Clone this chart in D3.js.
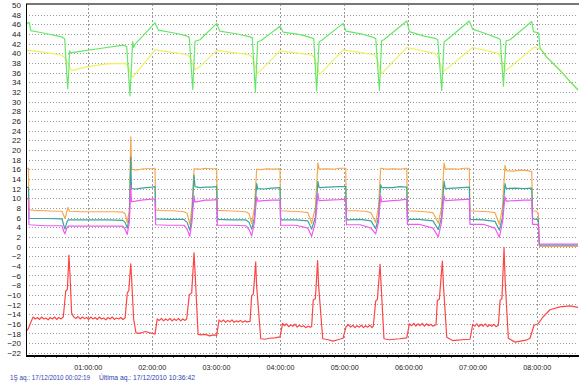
<!DOCTYPE html>
<html>
<head>
<meta charset="utf-8">
<script src="https://cdn.jsdelivr.net/npm/d3@7"></script>
<style>
  body { margin: 0; background: #fff; }
  svg { display: block; font-family: "Liberation Sans", Arial, sans-serif; }
</style>
</head>
<body>
<svg id="chart" width="580" height="389"></svg>
<script>
// times are minutes after 17/12/2010 00:00:00
const yTicks = d3.range(-22, 51, 2);
const xTickHours = [1, 2, 3, 4, 5, 6, 7, 8];
const xTickLabels = ["01:00:00", "02:00:00", "03:00:00", "04:00:00", "05:00:00", "06:00:00", "07:00:00", "08:00:00"];
const firstAcq = "1Ş aq.: 17/12/2010 00:02:19";
const lastAcq = "Última aq.: 17/12/2010 10:36:42";

const greenSeries = [[2.3,46.1],[5.4,46.4],[6.7,44.7],[18.5,44.2],[35.7,43.4],[38.5,43.0],[41.3,32.7],[42.5,37],[43,40.5],[44.1,40.1],[55.9,40.5],[71.5,41.0],[93.3,41.7],[96.5,41.4],[99.6,31.2],[102.1,42.4],[103,41.2],[104,41.8],[123.0,46.3],[126.1,44.8],[143.3,44.1],[152.6,43.6],[155,43.3],[158.3,32.5],[160.4,42.5],[165.1,42.8],[180.7,46.2],[183.5,44.6],[200,44.0],[211.9,43.4],[214,43.2],[216.9,32.0],[219,42.4],[222,42.6],[239.9,45.6],[242.8,44.4],[260,43.8],[269.5,43.2],[271.5,43.0],[274.2,32.2],[276.5,42.4],[279,42.7],[298.9,46.2],[301.7,44.6],[318,43.9],[327.2,43.3],[329.5,43.0],[332.9,32.3],[335,42.6],[337,42.8],[358.5,46.7],[360.9,44.5],[373.9,43.6],[384.9,43.1],[387.5,42.8],[391.2,32.3],[393.4,42.4],[395.5,42.7],[417.0,46.7],[420.2,45.0],[433.3,44.0],[444.2,43.1],[446,42.8],[448.9,33.2],[451.4,42.6],[455.1,42.8],[475.4,46.6],[477,44.5],[481.9,44.2],[483.2,41.1],[489,39.3],[501.7,36.5],[511.1,34.2],[518.7,32.4]];
const yellowSeries = [[2.3,40.5],[6,40.6],[20,40.2],[35.7,39.6],[38.8,39.0],[45.0,36.4],[59.1,37.2],[77.8,37.8],[94.9,37.9],[97,37.6],[102.1,35.0],[123.0,40.7],[146.4,40.0],[153.9,39.6],[156,39.0],[160.5,36.6],[165.1,37.3],[180.7,40.6],[205,39.9],[212,39.6],[214.5,39.0],[219,35.8],[239.9,40.5],[262,39.9],[270,39.6],[272.5,39.0],[277,35.6],[298.9,40.7],[320,40.0],[328,39.7],[330.5,39.0],[335,35.8],[358.5,41.2],[384.9,40.0],[388,39.0],[392.7,36.2],[420.2,41.2],[444.2,40.0],[446.5,39.0],[450.4,36.3],[478,41.3],[484.7,40.7],[489,39.3],[501.7,36.5],[511.1,34.2],[518.7,32.4]];
const orangeSeries = [[2.3,16.2],[4.6,16.2],[5.1,7.6],[10,7.5],[20,7.4],[30,7.3],[36,7.3],[37.5,6.5],[38.8,5.8],[40,6.8],[41.6,8.1],[43,7.3],[55,7.2],[70,7.2],[85,7.2],[93,7.1],[95,6.8],[97,5.0],[99,7.5],[100.3,22.7],[101.2,16.0],[105,15.8],[110,16.0],[115,16.1],[120,16.1],[123,16.2],[123.6,7.6],[130,7.4],[140,7.4],[150,7.2],[153,6.9],[155.5,4.6],[157.5,8],[159.5,16.1],[165,16.0],[170,16.2],[175,16.1],[180.7,16.1],[181.3,7.5],[190,7.4],[200,7.3],[208,7.2],[211,6.8],[213.4,4.8],[216,8],[218.1,16.0],[222,15.9],[228,16.1],[234,16.0],[239.9,16.1],[240.5,7.4],[250,7.3],[260,7.2],[266,7.0],[269.5,4.8],[273,8],[275.4,17.3],[276.5,16.0],[282,16.1],[290,16.0],[296,16.2],[301.4,16.2],[302,7.4],[310,7.4],[320,7.3],[325,7.0],[329.4,5.0],[332,8],[334.1,16.2],[340,16.0],[346,16.1],[352,16.0],[358.5,16.2],[359.1,7.4],[368,7.3],[376,7.2],[383,7.0],[388,4.8],[391,8],[393.4,17.3],[394.5,16.0],[400,16.1],[406,16.0],[412,16.2],[417,16.2],[417.6,7.4],[425,7.3],[435,7.2],[441,7.0],[445.1,4.6],[448,8],[450.4,16.8],[451.5,15.7],[458,15.6],[465,15.8],[471,15.7],[475.4,15.5],[476.2,7.4],[480,7.3],[481.5,6.8],[482.5,0],[518.7,0]];
const tealSeries = [[2.3,12.3],[4.6,12.2],[5.1,5.8],[20,5.8],[36,5.7],[37.5,4.5],[38.8,3.6],[40.5,5.0],[41.6,5.5],[60,5.5],[80,5.5],[93,5.4],[95,5.0],[97,3.8],[99,6],[100.3,18.5],[101,12.0],[105,11.9],[110,12.1],[115,12.2],[120,12.3],[123,12.4],[123.6,5.7],[135,5.6],[150,5.6],[153,5.0],[155.5,3.4],[157.5,6],[159.5,14.8],[160.4,12.4],[165,12.2],[170,12.3],[175,12.3],[180.7,12.4],[181.3,5.6],[195,5.5],[208,5.5],[211,5.0],[213.4,3.6],[216,6],[218.1,13.0],[219,12.0],[225,11.9],[232,12.1],[239.9,12.2],[240.5,5.5],[255,5.5],[266,5.3],[269.5,3.6],[273,6],[275.4,13.5],[276.5,12.2],[285,12.3],[295,12.4],[301.4,12.4],[302,5.5],[315,5.6],[325,5.3],[329.4,3.7],[332,6],[334.1,12.8],[335,12.2],[345,12.2],[352,12.4],[358.5,12.3],[359.1,5.6],[370,5.6],[383,5.3],[388,3.5],[391,6],[393.4,13.5],[394.5,12.0],[402,12.1],[410,12.2],[417,12.3],[417.6,5.6],[430,5.5],[441,5.2],[445.1,3.4],[448,6],[450.4,13],[451.5,12.0],[460,12.1],[468,12.0],[475.4,12.1],[476.2,5.7],[481.5,5.6],[482.5,0.3],[518.7,0.3]];
const magentaSeries = [[2.3,10],[4.6,9.8],[5.1,4.5],[20,4.3],[36,4.3],[37.5,3.2],[38.8,2.6],[40.5,3.8],[41.6,4.2],[60,4.2],[80,4.2],[93,4.2],[95,3.6],[97,2.5],[99,5],[100.3,12.5],[101,9.3],[105,9.4],[110,9.6],[115,9.7],[120,9.8],[123,9.8],[123.6,4.5],[135,4.4],[150,4.4],[153,3.6],[155.5,2.1],[157.5,5],[159.5,10.5],[160.4,9.2],[165,9.4],[170,9.6],[175,9.6],[180.7,9.7],[181.3,4.4],[195,4.4],[208,4.3],[211,3.5],[213.4,2.2],[216,5],[218.1,10.3],[219,9.4],[225,9.5],[232,9.6],[239.9,9.6],[240.5,4.4],[255,4.4],[266,3.8],[269.5,2.1],[273,5],[275.4,11],[276.5,9.5],[285,9.6],[295,9.7],[301.4,9.8],[302,4.5],[315,4.5],[325,3.8],[329.4,2.6],[332,5],[334.1,10.5],[335,9.3],[345,9.5],[352,9.6],[358.5,9.8],[359.1,4.6],[370,4.6],[383,3.8],[388,2.0],[391,5],[393.4,10.5],[394.5,9.5],[402,9.6],[410,9.7],[417,9.8],[417.6,4.6],[430,4.6],[441,3.8],[445.1,1.9],[448,5],[450.4,10.3],[451.5,9.4],[460,9.5],[468,9.6],[475.4,9.6],[476.2,4.6],[481.5,4.6],[482.5,0.5],[518.7,0.5]];
const redSeries = [[2.3,-17.6],[4.5,-17.0],[7.7,-15.2],[9,-14.6],[11,-15.0],[13,-14.7],[15,-15.1],[17,-14.6],[19,-15.0],[21,-14.8],[23,-15.2],[25,-14.7],[27,-15.0],[29,-14.6],[31,-15.1],[33,-14.7],[35,-15.0],[37.2,-14.6],[39.5,-9.2],[41.0,-8.9],[42.5,-1.8],[43.5,-6],[45.0,-13.8],[47,-14.6],[49,-14.9],[51,-14.5],[53,-15.0],[55,-14.6],[57,-14.9],[59,-14.7],[61,-15.1],[63,-14.6],[65,-15.0],[67,-14.7],[69,-15.1],[71,-14.6],[73,-15.0],[75,-14.8],[77,-15.2],[79,-14.7],[81,-15.0],[83,-14.6],[85,-15.1],[87,-14.8],[89,-15.0],[91,-14.7],[93,-15.1],[95,-14.8],[97.1,-9.6],[98.5,-9.1],[100.3,-3.6],[101,-6],[103,-15],[105.2,-17.9],[108,-18.0],[111,-17.8],[114,-17.6],[117,-17.8],[120,-18.0],[123,-18.1],[125.1,-15.0],[127,-15.3],[129,-14.9],[131,-15.4],[133,-15.0],[135,-15.3],[137,-14.9],[139,-15.4],[141,-15.0],[143,-15.3],[145,-14.9],[147,-15.4],[149,-15.0],[151,-15.3],[152.6,-15.0],[155.1,-10.0],[157.3,-9.6],[159.5,-1.3],[160.4,-5],[163.3,-18.2],[166,-18.3],[170,-18.2],[174,-18.5],[178,-18.3],[180.7,-18.4],[182.9,-15.2],[185,-15.6],[187,-15.2],[189,-15.7],[191,-15.3],[193,-15.6],[195,-15.2],[197,-15.7],[199,-15.4],[201,-15.6],[203,-15.3],[205,-15.7],[207,-15.4],[209,-15.6],[211.9,-15.5],[213.4,-10.2],[215,-9.8],[217.2,-3.2],[218,-8],[221.9,-19.1],[226,-19.2],[230,-19.0],[235,-18.9],[239.9,-18.7],[242.4,-15.9],[244,-16.4],[246,-16.0],[248,-16.6],[250,-16.2],[252,-16.5],[254,-16.1],[256,-16.7],[258,-16.3],[260,-16.6],[262,-16.4],[264,-16.8],[266,-16.5],[268,-16.7],[269.5,-16.6],[271,-11.1],[273,-10.8],[275.1,-2.9],[276,-8],[279.9,-19.1],[285,-19.3],[289.5,-19.6],[294,-19.3],[298.9,-19.0],[301.7,-16.6],[304,-16.2],[306,-16.7],[308,-16.3],[310,-16.8],[312,-16.4],[314,-16.7],[316,-16.3],[318,-16.8],[320,-16.4],[322,-16.7],[324,-16.3],[326,-16.8],[327.2,-16.5],[329.4,-11.3],[331,-11.0],[333.5,-3.7],[334.5,-8],[337.2,-19.1],[342,-19.3],[347,-19.2],[352,-19.1],[358.5,-18.9],[360.9,-16.0],[363,-16.4],[365,-15.9],[367,-16.5],[369,-16.0],[371,-16.4],[373,-15.9],[375,-16.5],[377,-16.0],[379,-16.4],[381,-16.1],[383,-16.5],[385.9,-16.2],[387.1,-11.2],[389,-10.9],[391.8,-3.0],[392.8,-8],[395.9,-18.8],[401.8,-19.5],[406,-19.4],[411,-19.3],[417.7,-19.2],[420.2,-16.1],[422,-16.5],[424,-16.0],[426,-16.6],[428,-16.1],[430,-16.5],[432,-16.0],[434,-16.6],[436,-16.2],[438,-16.5],[440,-16.1],[442,-16.6],[444.2,-16.3],[445.8,-11.1],[447.5,-10.8],[449.5,-0.2],[450.5,-7],[453.5,-19.0],[459.8,-19.8],[465,-19.6],[470,-19.4],[473.8,-19.0],[477.5,-16.3],[481.3,-16.0],[485.9,-14.6],[492.5,-13.1],[501.8,-12.5],[511.2,-12.3],[518.7,-12.6]];

const seriesList = [
    { data: yellowSeries, color: "#f0f060" },
    { data: greenSeries, color: "#66e866" },
    { data: orangeSeries, color: "#f6a84c" },
    { data: tealSeries, color: "#3aa69d" },
    { data: magentaSeries, color: "#f258f2" },
    { data: redSeries, color: "#ff4444" }
];

const t0 = new Date(2010, 11, 17, 0, 0, 0);
const toDate = m => new Date(t0.getTime() + m * 60000);

const svg = d3.select("#chart");
const plotLeft = 26, plotRight = 578, plotTop = 4, plotBottom = 356;

const x = d3.scaleTime()
    .domain([toDate(2.32), toDate(518.67)])
    .range([plotLeft, plotRight]);
const y = d3.scaleLinear()
    .domain([-22.67, 50])
    .range([plotBottom, 5]);

const px = v => Math.round(v) + 0.5;

// horizontal dotted grid
svg.append("g")
    .selectAll("line")
    .data(yTicks.filter(d => d < 50))
    .enter()
    .append("line")
    .attr("x1", plotLeft)
    .attr("x2", plotRight)
    .attr("y1", d => px(y(d)))
    .attr("y2", d => px(y(d)))
    .attr("stroke", "#999")
    .attr("stroke-dasharray", "1,2");

// vertical dotted grid at each hour
svg.append("g")
    .selectAll("line")
    .data(xTickHours)
    .enter()
    .append("line")
    .attr("x1", d => px(x(toDate(d * 60))))
    .attr("x2", d => px(x(toDate(d * 60))))
    .attr("y1", plotTop)
    .attr("y2", plotBottom + 4)
    .attr("stroke", "#999")
    .attr("stroke-dasharray", "2,2");

// minor ticks under the time axis
svg.append("g")
    .selectAll("line")
    .data(d3.range(10, 519, 10).filter(m => m % 60 !== 0))
    .enter()
    .append("line")
    .attr("x1", d => px(x(toDate(d))))
    .attr("x2", d => px(x(toDate(d))))
    .attr("y1", plotBottom)
    .attr("y2", plotBottom + 2)
    .attr("stroke", "#777");

// series
const line = d3.line()
    .x(d => x(toDate(d[0])))
    .y(d => y(d[1]));

svg.append("g")
    .selectAll("path")
    .data(seriesList)
    .enter()
    .append("path")
    .attr("d", d => line(d.data))
    .attr("fill", "none")
    .attr("stroke", d => d.color)
    .attr("stroke-width", 1.2)
    .attr("stroke-linejoin", "round");

// frame
svg.append("line")
    .attr("x1", plotLeft).attr("x2", plotRight + 1)
    .attr("y1", plotTop).attr("y2", plotTop)
    .attr("stroke", "#777").attr("stroke-width", 2);
svg.append("line")
    .attr("x1", plotLeft + 0.5).attr("x2", plotLeft + 0.5)
    .attr("y1", plotTop).attr("y2", plotBottom)
    .attr("stroke", "#000");
svg.append("line")
    .attr("x1", plotLeft).attr("x2", plotRight + 1)
    .attr("y1", plotBottom).attr("y2", plotBottom)
    .attr("stroke", "#000").attr("stroke-width", 2);

// y axis labels
const yAxis = d3.axisLeft(y)
    .tickValues(yTicks)
    .tickSize(0)
    .tickPadding(5);
svg.append("g")
    .attr("transform", `translate(${plotLeft},0)`)
    .call(yAxis)
    .call(g => g.select(".domain").remove())
    .selectAll("text")
    .attr("font-size", 8)
    .attr("fill", "#222")
    .attr("font-family", "'Liberation Sans', Arial, sans-serif");

// x axis labels
const xAxis = d3.axisBottom(x)
    .tickValues(xTickHours.map(h => toDate(h * 60)))
    .tickFormat((d, i) => xTickLabels[i])
    .tickSize(0)
    .tickPadding(8);
svg.append("g")
    .attr("transform", `translate(0,${plotBottom})`)
    .call(xAxis)
    .call(g => g.select(".domain").remove())
    .selectAll("text")
    .attr("font-size", 8)
    .attr("fill", "#222")
    .attr("font-family", "'Liberation Sans', Arial, sans-serif")
    .attr("textLength", 28)
    .attr("lengthAdjust", "spacingAndGlyphs");

// footer
svg.append("text")
    .attr("x", 10).attr("y", 380)
    .attr("font-size", 7.5)
    .attr("fill", "#2f3fb0")
    .attr("textLength", 80)
    .attr("lengthAdjust", "spacingAndGlyphs")
    .text(firstAcq);
svg.append("text")
    .attr("x", 99).attr("y", 380)
    .attr("font-size", 7.5)
    .attr("fill", "#2f3fb0")
    .attr("textLength", 96)
    .attr("lengthAdjust", "spacingAndGlyphs")
    .text(lastAcq);
</script>
</body>
</html>
